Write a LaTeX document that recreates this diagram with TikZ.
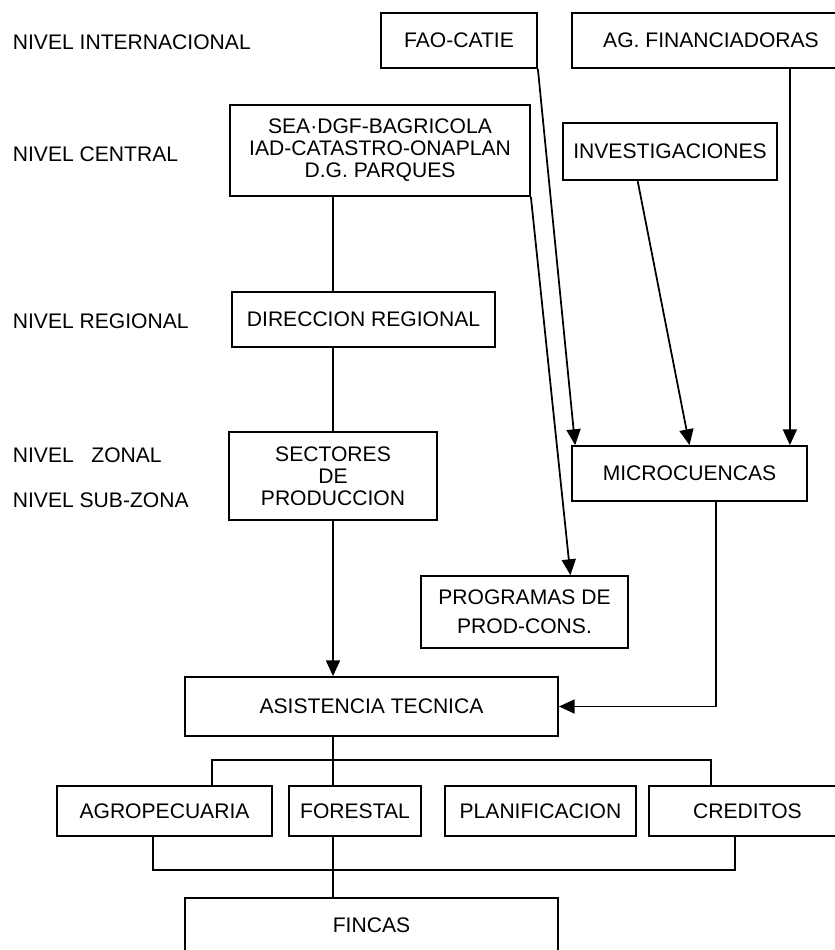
\documentclass[tikz,border=0pt]{standalone}
\usepackage{fontspec}
\setmainfont{Liberation Sans}
\usetikzlibrary{arrows.meta,calc}

\begin{document}
\begin{tikzpicture}[x=0.2mm,y=-0.2mm,line width=1pt,
	box/.style={draw,rectangle,inner sep=0pt,align=center,font=\fontsize{12}{12.5}\selectfont},
	lvl/.style={anchor=west,inner sep=0pt,font=\fontsize{12}{12.5}\selectfont},
	arr/.style={-{Triangle[width=8pt,length=9pt]}}]
	\useasboundingbox (0,0) rectangle (834,950);
	\node[lvl] (intl) at (12,42) {NIVEL INTERNACIONAL};
	\node[lvl] (cent) at (12,154) {NIVEL CENTRAL};
	\node[lvl] (regl) at (12,321) {NIVEL REGIONAL};
	\node[lvl] (zonl) at (12,455) {NIVEL\ \ \ ZONAL};
	\node[lvl] (subz) at (12,500) {NIVEL SUB-ZONA};
	\node[box,minimum width=31.2mm,minimum height=11mm] (fao) at (459,40.5) {FAO-CATIE};
	\node[box,minimum width=55.6mm,minimum height=11mm] (agf) at (711,40.5) {AG. FINANCIADORAS};
	\node[box,minimum width=60mm,minimum height=18.2mm] (sea) at (380,150.5) {SEA·DGF-BAGRICOLA\\IAD-CATASTRO-ONAPLAN\\D.G. PARQUES};
	\node[box,minimum width=42.8mm,minimum height=11.4mm] (inv) at (670,151.5) {INVESTIGACIONES};
	\node[box,minimum width=52.6mm,minimum height=11mm] (dir) at (363.5,319.5) {DIRECCION REGIONAL};
	\node[box,minimum width=41.6mm,minimum height=17.6mm] (sec) at (333,476) {SECTORES\\DE\\PRODUCCION};
	\node[box,minimum width=47mm,minimum height=11mm] (mic) at (689.5,473.5) {MICROCUENCAS};
	\node[box,minimum width=41.4mm,minimum height=14.4mm] (prog) at (524.5,612) {PROGRAMAS DE\\[4pt]PROD-CONS.};
	\node[box,minimum width=74.6mm,minimum height=11.8mm] (asis) at (371.5,706.5) {ASISTENCIA TECNICA};
	\node[box,minimum width=43mm,minimum height=10mm] (agro) at (164.5,811) {AGROPECUARIA};
	\node[box,minimum width=26.4mm,minimum height=10mm] (fore) at (355,811) {FORESTAL};
	\node[box,minimum width=38.2mm,minimum height=10mm] (plan) at (540.5,811) {PLANIFICACION};
	\node[box,minimum width=39.4mm,minimum height=10mm] (cred) at (747.5,811) {CREDITOS};
	\node[box,minimum width=74.6mm,minimum height=10.8mm] (fin) at (371.5,925) {FINCAS};
	\coordinate (spine) at (333,0);
	\coordinate (mic3) at ([xshift=-3.6mm]mic.north east);
	\draw (sea.south -| spine) -- (dir.north -| spine);
	\draw (dir.south -| spine) -- (sec.north);
	\draw[arr] (sec.south) -- (asis.north -| spine);
	\draw[arr] (fao.south east) -- ([xshift=0.8mm]mic.north west);
	\draw[arr] (sea.south east) -- ($(prog.north west)!0.72!(prog.north east)$);
	\draw[arr] ($(inv.south west)!0.35!(inv.south east)$) -- (mic.north);
	\draw[arr] (agf.south -| mic3) -- (mic3);
	\draw[arr] ([xshift=5.3mm]mic.south) |- (asis.east);
	\draw (asis.south -| spine) -- (fore.north -| spine);
	\draw ([xshift=9.5mm]agro.north) -- ++(0,-25) -| ([xshift=12.6mm]cred.north west);
	\draw ([xshift=-2.3mm]agro.south) -- ++(0,33) -| ([xshift=17.4mm]cred.south west);
	\draw (fore.south -| spine) -- (fin.north -| spine);
\end{tikzpicture}
\end{document}
